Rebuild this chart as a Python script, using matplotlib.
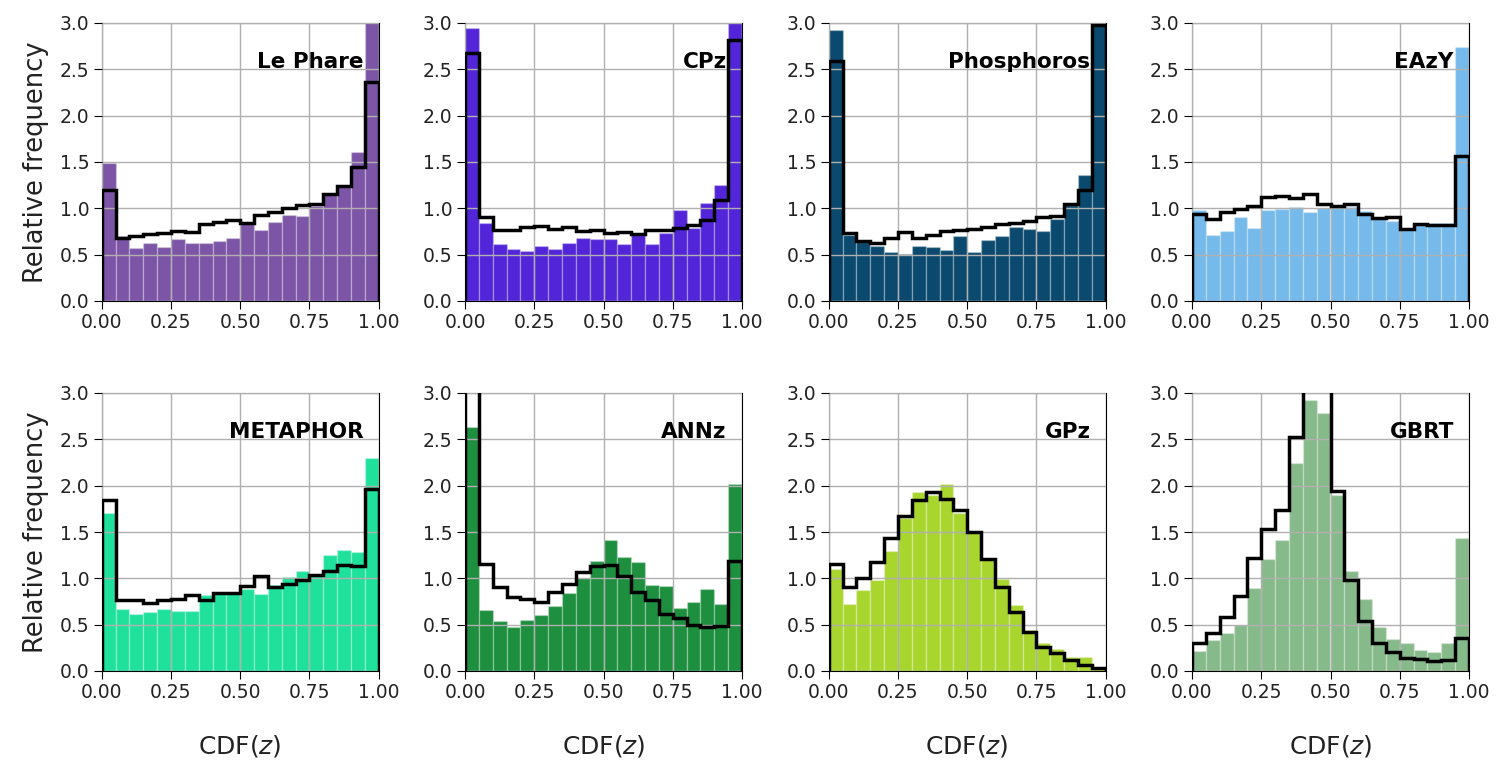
import numpy as np
import matplotlib.pyplot as plt

edges = np.linspace(0.0, 1.0, 21)

names = ["Le Phare", "CPz", "Phosphoros", "EAzY",
         "METAPHOR", "ANNz", "GPz", "GBRT"]
colors = ["#7c55a6", "#5325d9", "#0b4a6e", "#75baea",
          "#1fe19c", "#1e8f3e", "#a9d52f", "#87ba8b"]

# filled histograms (relative frequency per bin)
lephare_bars = [1.49, 0.70, 0.57, 0.63, 0.58, 0.67, 0.63, 0.63, 0.65, 0.68,
                0.84, 0.77, 0.85, 0.93, 0.92, 1.03, 1.15, 1.25, 1.61, 3.30]
cpz_bars = [2.95, 0.84, 0.62, 0.56, 0.54, 0.59, 0.56, 0.63, 0.68, 0.67,
            0.67, 0.61, 0.71, 0.61, 0.73, 0.98, 0.79, 1.06, 1.25, 3.30]
phos_bars = [2.92, 0.71, 0.64, 0.59, 0.53, 0.51, 0.59, 0.58, 0.55, 0.70,
             0.53, 0.66, 0.70, 0.80, 0.78, 0.75, 0.89, 1.04, 1.36, 3.00]
eazy_bars = [0.98, 0.71, 0.76, 0.91, 0.79, 0.98, 0.99, 1.01, 0.96, 1.00,
             1.02, 1.01, 0.97, 0.91, 0.86, 0.78, 0.84, 0.84, 0.84, 2.74]
meta_bars = [1.70, 0.67, 0.61, 0.64, 0.67, 0.65, 0.65, 0.82, 0.84, 0.84,
             0.88, 0.83, 0.93, 1.01, 1.08, 1.05, 1.25, 1.31, 1.28, 2.30]
annz_bars = [2.63, 0.66, 0.54, 0.48, 0.55, 0.60, 0.70, 0.84, 1.00, 1.19,
             1.41, 1.23, 1.18, 0.93, 0.92, 0.68, 0.75, 0.89, 0.72, 2.02]
gpz_bars = [1.10, 0.72, 0.87, 0.98, 1.29, 1.65, 1.93, 1.90, 2.02, 1.70,
            1.50, 1.21, 0.99, 0.71, 0.44, 0.30, 0.24, 0.15, 0.15, 0.03]
gbrt_bars = [0.22, 0.33, 0.41, 0.50, 0.90, 1.21, 1.41, 2.25, 2.92, 2.78,
             1.90, 1.08, 0.78, 0.47, 0.34, 0.30, 0.23, 0.21, 0.30, 1.43]

# black step lines
lephare_line = [1.20, 0.68, 0.70, 0.72, 0.73, 0.75, 0.74, 0.83, 0.85, 0.87,
                0.84, 0.93, 0.96, 1.00, 1.04, 1.05, 1.15, 1.24, 1.45, 2.36]
cpz_line = [2.68, 0.91, 0.77, 0.77, 0.80, 0.81, 0.78, 0.80, 0.76, 0.77,
            0.73, 0.74, 0.72, 0.77, 0.77, 0.79, 0.82, 0.87, 1.09, 2.82]
phos_line = [2.59, 0.73, 0.65, 0.63, 0.68, 0.74, 0.68, 0.71, 0.76, 0.77,
             0.78, 0.80, 0.83, 0.84, 0.86, 0.91, 0.92, 1.05, 1.20, 2.98]
eazy_line = [0.94, 0.89, 0.96, 0.99, 1.03, 1.12, 1.13, 1.11, 1.16, 1.05,
             1.03, 1.05, 0.94, 0.90, 0.91, 0.78, 0.83, 0.82, 0.82, 1.57]
meta_line = [1.84, 0.77, 0.77, 0.73, 0.77, 0.78, 0.82, 0.77, 0.84, 0.84,
             0.92, 1.02, 0.91, 0.94, 0.98, 1.04, 1.08, 1.14, 1.13, 1.96]
annz_line = [3.50, 1.16, 0.91, 0.80, 0.78, 0.75, 0.85, 0.94, 1.07, 1.13,
             1.14, 1.02, 0.85, 0.77, 0.61, 0.57, 0.50, 0.47, 0.49, 1.19]
gpz_line = [1.16, 0.91, 1.00, 1.18, 1.43, 1.67, 1.85, 1.93, 1.86, 1.74,
            1.50, 1.21, 0.91, 0.64, 0.42, 0.26, 0.19, 0.12, 0.06, 0.03]
gbrt_line = [0.30, 0.41, 0.58, 0.81, 1.22, 1.53, 1.74, 2.52, 3.30, 3.30,
             1.94, 0.98, 0.54, 0.30, 0.21, 0.14, 0.13, 0.11, 0.12, 0.36]

bars = [lephare_bars, cpz_bars, phos_bars, eazy_bars,
        meta_bars, annz_bars, gpz_bars, gbrt_bars]
lines = [lephare_line, cpz_line, phos_line, eazy_line,
         meta_line, annz_line, gpz_line, gbrt_line]

xticks = [0.0, 0.25, 0.5, 0.75, 1.0]
yticks = [0.0, 0.5, 1.0, 1.5, 2.0, 2.5, 3.0]

fig = plt.figure(figsize=(15.04, 7.68), dpi=100)

lefts = [101.7, 465.0, 828.7, 1192.0]
tops = [23.0, 393.0]
W, H = 277.0, 278.0

for i in range(8):
    r, c = divmod(i, 4)
    ax = fig.add_axes([lefts[c] / 1504, 1 - (tops[r] + H) / 768, W / 1504, H / 768])
    ax.bar(edges[:-1], bars[i], width=0.05, align="edge", color=colors[i],
           edgecolor=(1, 1, 1, 0.25), linewidth=1.0, zorder=1)
    ax.stairs(lines[i], edges, color="k", lw=2.5, zorder=3)
    ax.set_xlim(0, 1)
    ax.set_ylim(0, 3)
    ax.set_xticks(xticks)
    ax.set_xticklabels(["%.2f" % t for t in xticks])
    ax.set_yticks(yticks)
    ax.set_yticklabels(["%.1f" % t for t in yticks])
    ax.tick_params(labelsize=13.5, length=5.5, pad=3.5, labelcolor="#222222")
    ax.set_axisbelow(False)
    ax.grid(True, color="#b0b0b0", lw=1.0)
    ax.text(0.945, 0.86, names[i], transform=ax.transAxes, ha="right",
            va="center", fontsize=15.5, fontweight="bold", zorder=4)
    if c == 0:
        ax.set_ylabel("Relative frequency", fontsize=18.5, color="#222222")
        ax.yaxis.set_label_coords(-0.19, 0.5)
    if r == 1:
        ax.set_xlabel("CDF($z$)", fontsize=18, labelpad=22, color="#222222")

plt.savefig("out.png", dpi=100)
